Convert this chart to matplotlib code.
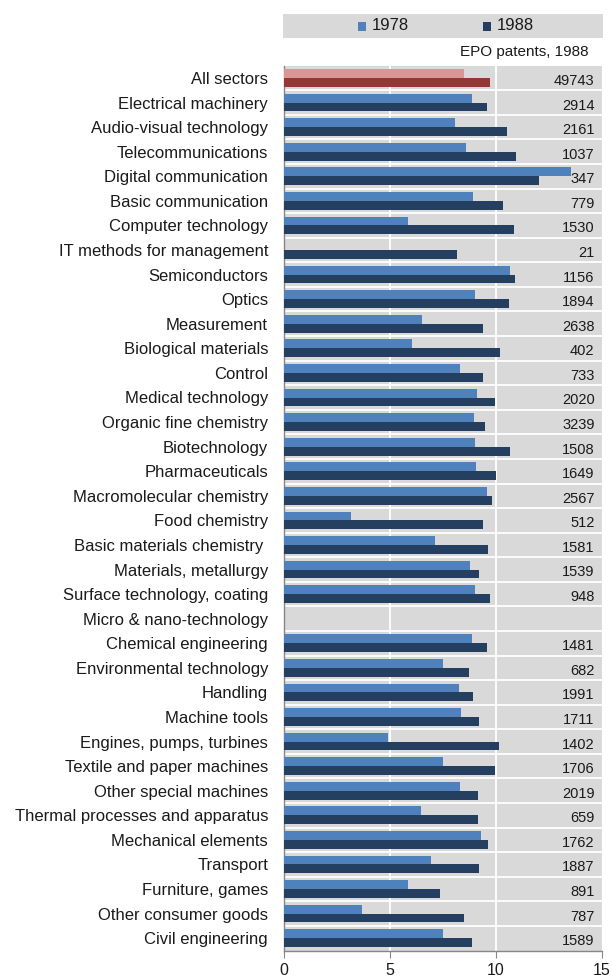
import matplotlib
matplotlib.use("Agg")
import matplotlib.pyplot as plt
from matplotlib.patches import Rectangle
import numpy as np

plt.rcParams['font.family'] = ['Liberation Sans', 'DejaVu Sans']

sectors = [
    "All sectors", "Electrical machinery", "Audio-visual technology",
    "Telecommunications", "Digital communication", "Basic communication",
    "Computer technology", "IT methods for management", "Semiconductors",
    "Optics", "Measurement", "Biological materials", "Control",
    "Medical technology", "Organic fine chemistry", "Biotechnology",
    "Pharmaceuticals", "Macromolecular chemistry", "Food chemistry",
    "Basic materials chemistry ", "Materials, metallurgy",
    "Surface technology, coating", "Micro & nano-technology",
    "Chemical engineering", "Environmental technology", "Handling",
    "Machine tools", "Engines, pumps, turbines", "Textile and paper machines",
    "Other special machines", "Thermal processes and apparatus",
    "Mechanical elements", "Transport", "Furniture, games",
    "Other consumer goods", "Civil engineering",
]

# NaN = no value for that year
values_1978 = [
    8.49, 8.87, 8.07, 8.57, 13.52, 8.90, 5.86, np.nan, 10.66, 9.01,
    6.51, 6.02, 8.30, 9.10, 8.96, 8.99, 9.04, 9.56, 3.16, 7.14,
    8.77, 9.01, np.nan, 8.88, 7.48, 8.27, 8.33, 4.92, 7.52, 8.30,
    6.48, 9.31, 6.93, 5.83, 3.69, 7.48,
]
values_1988 = [
    9.72, 9.56, 10.52, 10.96, 12.01, 10.35, 10.85, 8.14, 10.90, 10.63,
    9.40, 10.17, 9.37, 9.94, 9.50, 10.66, 9.98, 9.80, 9.40, 9.61,
    9.21, 9.70, np.nan, 9.56, 8.73, 8.93, 9.18, 10.13, 9.95, 9.15,
    9.17, 9.61, 9.21, 7.37, 8.51, 8.85,
]
epo_patents_1988 = [
    "49743", "2914", "2161", "1037", "347", "779", "1530", "21", "1156",
    "1894", "2638", "402", "733", "2020", "3239", "1508", "1649", "2567",
    "512", "1581", "1539", "948", "", "1481", "682", "1991", "1711",
    "1402", "1706", "2019", "659", "1762", "1887", "891", "787", "1589",
]

c78, c88 = "#4F81BD", "#243F60"
c78_all, c88_all = "#D99694", "#953735"
bg = "#D9D9D9"
txt_col = "#1a1a1a"

fig = plt.figure(figsize=(6.12, 9.75), dpi=100)
ax = fig.add_axes([284 / 612, 1 - 950.5 / 975, 318 / 612, (950.5 - 65.7) / 975])
ax.set_facecolor(bg)

n = len(sectors)
y = np.arange(n)
h = 0.36
cols78 = [c78_all] + [c78] * (n - 1)
cols88 = [c88_all] + [c88] * (n - 1)
ax.barh(y - h / 2, np.nan_to_num(values_1978), height=h, color=cols78, zorder=3)
ax.barh(y + h / 2, np.nan_to_num(values_1988), height=h, color=cols88, zorder=3)

for xv in (5, 10):
    ax.axvline(xv, color="white", lw=1.3, zorder=1)
for yv in np.arange(n - 1) + 0.5:
    ax.axhline(yv, color="white", lw=1.3, zorder=2)

for yi, txt in zip(y, epo_patents_1988):
    ax.text(14.65, yi + 0.12, txt, ha="right", va="center", fontsize=10.5,
            color=txt_col, zorder=4)

ax.set_xlim(0, 15)
ax.set_ylim(n - 0.5, -0.5)
ax.set_yticks(y)
ax.set_yticklabels(sectors, fontsize=12, color=txt_col)
ax.tick_params(axis="y", length=0, pad=11.5)
ax.set_xticks([0, 5, 10, 15])
ax.tick_params(axis="x", length=5, color="#868686", labelsize=11.5,
               labelcolor=txt_col, pad=4)
for s in ("top", "right"):
    ax.spines[s].set_visible(False)
for s in ("left", "bottom"):
    ax.spines[s].set_color("#868686")
    ax.spines[s].set_linewidth(1)

# Legend band above the plot
fig.patches.append(Rectangle((283 / 612, 1 - 38 / 975), 320 / 612, 24 / 975,
                             transform=fig.transFigure, facecolor=bg,
                             edgecolor="none"))
for x0, col, lab in ((358, c78, "1978"), (483, c88, "1988")):
    fig.patches.append(Rectangle((x0 / 612, 1 - 30.5 / 975), 8.5 / 612, 8.5 / 975,
                                 transform=fig.transFigure, facecolor=col,
                                 edgecolor="none"))
    fig.text((x0 + 13.5) / 612, 1 - 26 / 975, lab, ha="left", va="center",
             fontsize=12, color=txt_col)

fig.text(588.5 / 612, 1 - 52 / 975, "EPO patents, 1988", ha="right",
         va="center", fontsize=11, color=txt_col)

fig.savefig("out.png", dpi=100, facecolor="white")
